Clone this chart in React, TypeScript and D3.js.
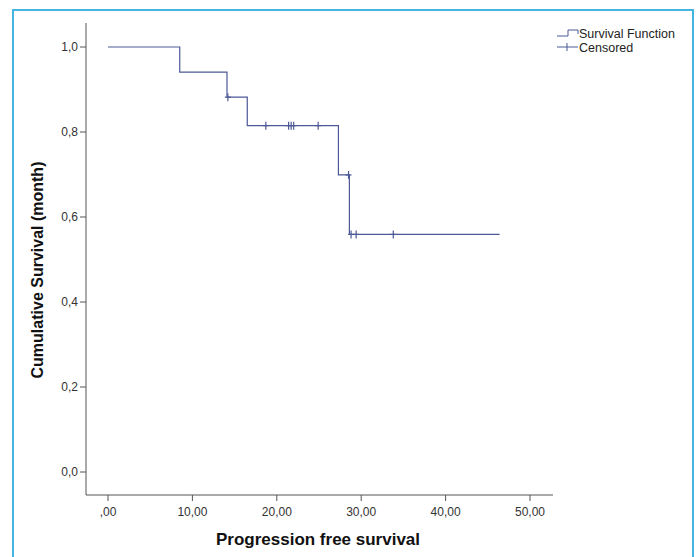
import React, { useEffect, useRef } from 'react';
import * as d3 from 'd3';

// Kaplan-Meier steps
const stepTimes = [0, 8.5, 14.1, 16.5, 27.3, 28.6, 46.4];
const stepSurvival = [1.0, 0.941, 0.882, 0.815, 0.699, 0.559, 0.559];

const censoredTimes = [14.2, 18.7, 21.4, 21.7, 22.0, 24.9, 28.5, 28.8, 29.4, 33.8];
const censoredSurvival = [0.882, 0.815, 0.815, 0.815, 0.815, 0.815, 0.699, 0.559, 0.559, 0.559];

const xTicks = [0, 10, 20, 30, 40, 50];
const xTickLabels = [',00', '10,00', '20,00', '30,00', '40,00', '50,00'];
const yTicks = [0, 0.2, 0.4, 0.6, 0.8, 1.0];
const yTickLabels = ['0,0', '0,2', '0,4', '0,6', '0,8', '1,0'];

const legendLabels = ['Survival Function', 'Censored'];

const W = 696, H = 557;
const FONT = 'Arial, "Liberation Sans", sans-serif';
const LINE = '#4d5896';
const AXIS = '#555';

const App = () => {
    const svgRef = useRef<SVGSVGElement>(null);

    useEffect(() => {
        const svg = d3.select(svgRef.current);
        svg.selectAll('*').remove();

        // frame
        const frame = '#45b4e0';
        svg.append('path')
            .attr('d', `M13,${H} L13,10 L693,10 L693,${H}`)
            .attr('fill', 'none')
            .attr('stroke', frame)
            .attr('stroke-width', 2);

        const x = d3.scaleLinear().domain([0, 50]).range([108, 530]);
        const y = d3.scaleLinear().domain([0, 1]).range([472, 47]);

        const axisLeft = 86, axisBottom = 495;
        const g = svg.append('g');

        // y axis
        g.append('line')
            .attr('x1', axisLeft).attr('x2', axisLeft)
            .attr('y1', 23).attr('y2', axisBottom)
            .attr('stroke', AXIS);
        yTicks.forEach((t, i) => {
            g.append('line')
                .attr('x1', axisLeft - 6).attr('x2', axisLeft)
                .attr('y1', y(t)).attr('y2', y(t))
                .attr('stroke', AXIS);
            g.append('text')
                .attr('x', axisLeft - 8).attr('y', y(t) + 4)
                .attr('text-anchor', 'end')
                .style('font-family', FONT).style('font-size', '12px')
                .attr('fill', '#333')
                .text(yTickLabels[i]);
        });

        // x axis
        g.append('line')
            .attr('x1', axisLeft).attr('x2', 553)
            .attr('y1', axisBottom).attr('y2', axisBottom)
            .attr('stroke', AXIS);
        xTicks.forEach((t, i) => {
            g.append('line')
                .attr('x1', x(t)).attr('x2', x(t))
                .attr('y1', axisBottom).attr('y2', axisBottom + 6)
                .attr('stroke', AXIS);
            g.append('text')
                .attr('x', x(t)).attr('y', axisBottom + 21)
                .attr('text-anchor', 'middle')
                .style('font-family', FONT).style('font-size', '12px')
                .attr('fill', '#333')
                .text(xTickLabels[i]);
        });

        // axis titles
        g.append('text')
            .attr('x', 318).attr('y', 545)
            .attr('text-anchor', 'middle')
            .style('font-family', FONT).style('font-size', '17px').style('font-weight', 'bold')
            .attr('fill', '#111')
            .text('Progression free survival');
        g.append('text')
            .attr('transform', 'translate(43,270) rotate(-90)')
            .attr('text-anchor', 'middle')
            .style('font-family', FONT).style('font-size', '16px').style('font-weight', 'bold')
            .attr('fill', '#111')
            .text('Cumulative Survival (month)');

        // survival curve
        const pts = stepTimes.map((t, i) => [t, stepSurvival[i]] as [number, number]);
        const line = d3.line<[number, number]>()
            .x((d) => x(d[0]))
            .y((d) => y(d[1]))
            .curve(d3.curveStepAfter);
        g.append('path')
            .attr('d', line(pts))
            .attr('fill', 'none')
            .attr('stroke', LINE)
            .attr('stroke-width', 1.2);

        // censored marks
        censoredTimes.forEach((t, i) => {
            const cx = x(t), cy = y(censoredSurvival[i]);
            g.append('line')
                .attr('x1', cx).attr('x2', cx)
                .attr('y1', cy - 4).attr('y2', cy + 4)
                .attr('stroke', LINE).attr('stroke-width', 1.2);
            g.append('line')
                .attr('x1', cx - 3).attr('x2', cx + 3)
                .attr('y1', cy).attr('y2', cy)
                .attr('stroke', LINE).attr('stroke-width', 1.2);
        });

        // legend
        const lg = svg.append('g');
        lg.append('path')
            .attr('d', 'M557,36 L568,36 L568,30 L578,30 L578,34')
            .attr('fill', 'none').attr('stroke', LINE);
        lg.append('line')
            .attr('x1', 557).attr('x2', 578).attr('y1', 47).attr('y2', 47)
            .attr('stroke', LINE);
        lg.append('line')
            .attr('x1', 567).attr('x2', 567).attr('y1', 43).attr('y2', 51)
            .attr('stroke', LINE);
        legendLabels.forEach((label, i) => {
            lg.append('text')
                .attr('x', 579).attr('y', 37.5 + i * 14)
                .style('font-family', FONT).style('font-size', '12.5px')
                .attr('fill', '#222')
                .text(label);
        });
    }, []);

    return (
        <svg
            ref={svgRef}
            width={W}
            height={H}
            style={{ position: 'absolute', left: 0, top: 0, background: '#fff' }}
        />
    );
};

export default App;
